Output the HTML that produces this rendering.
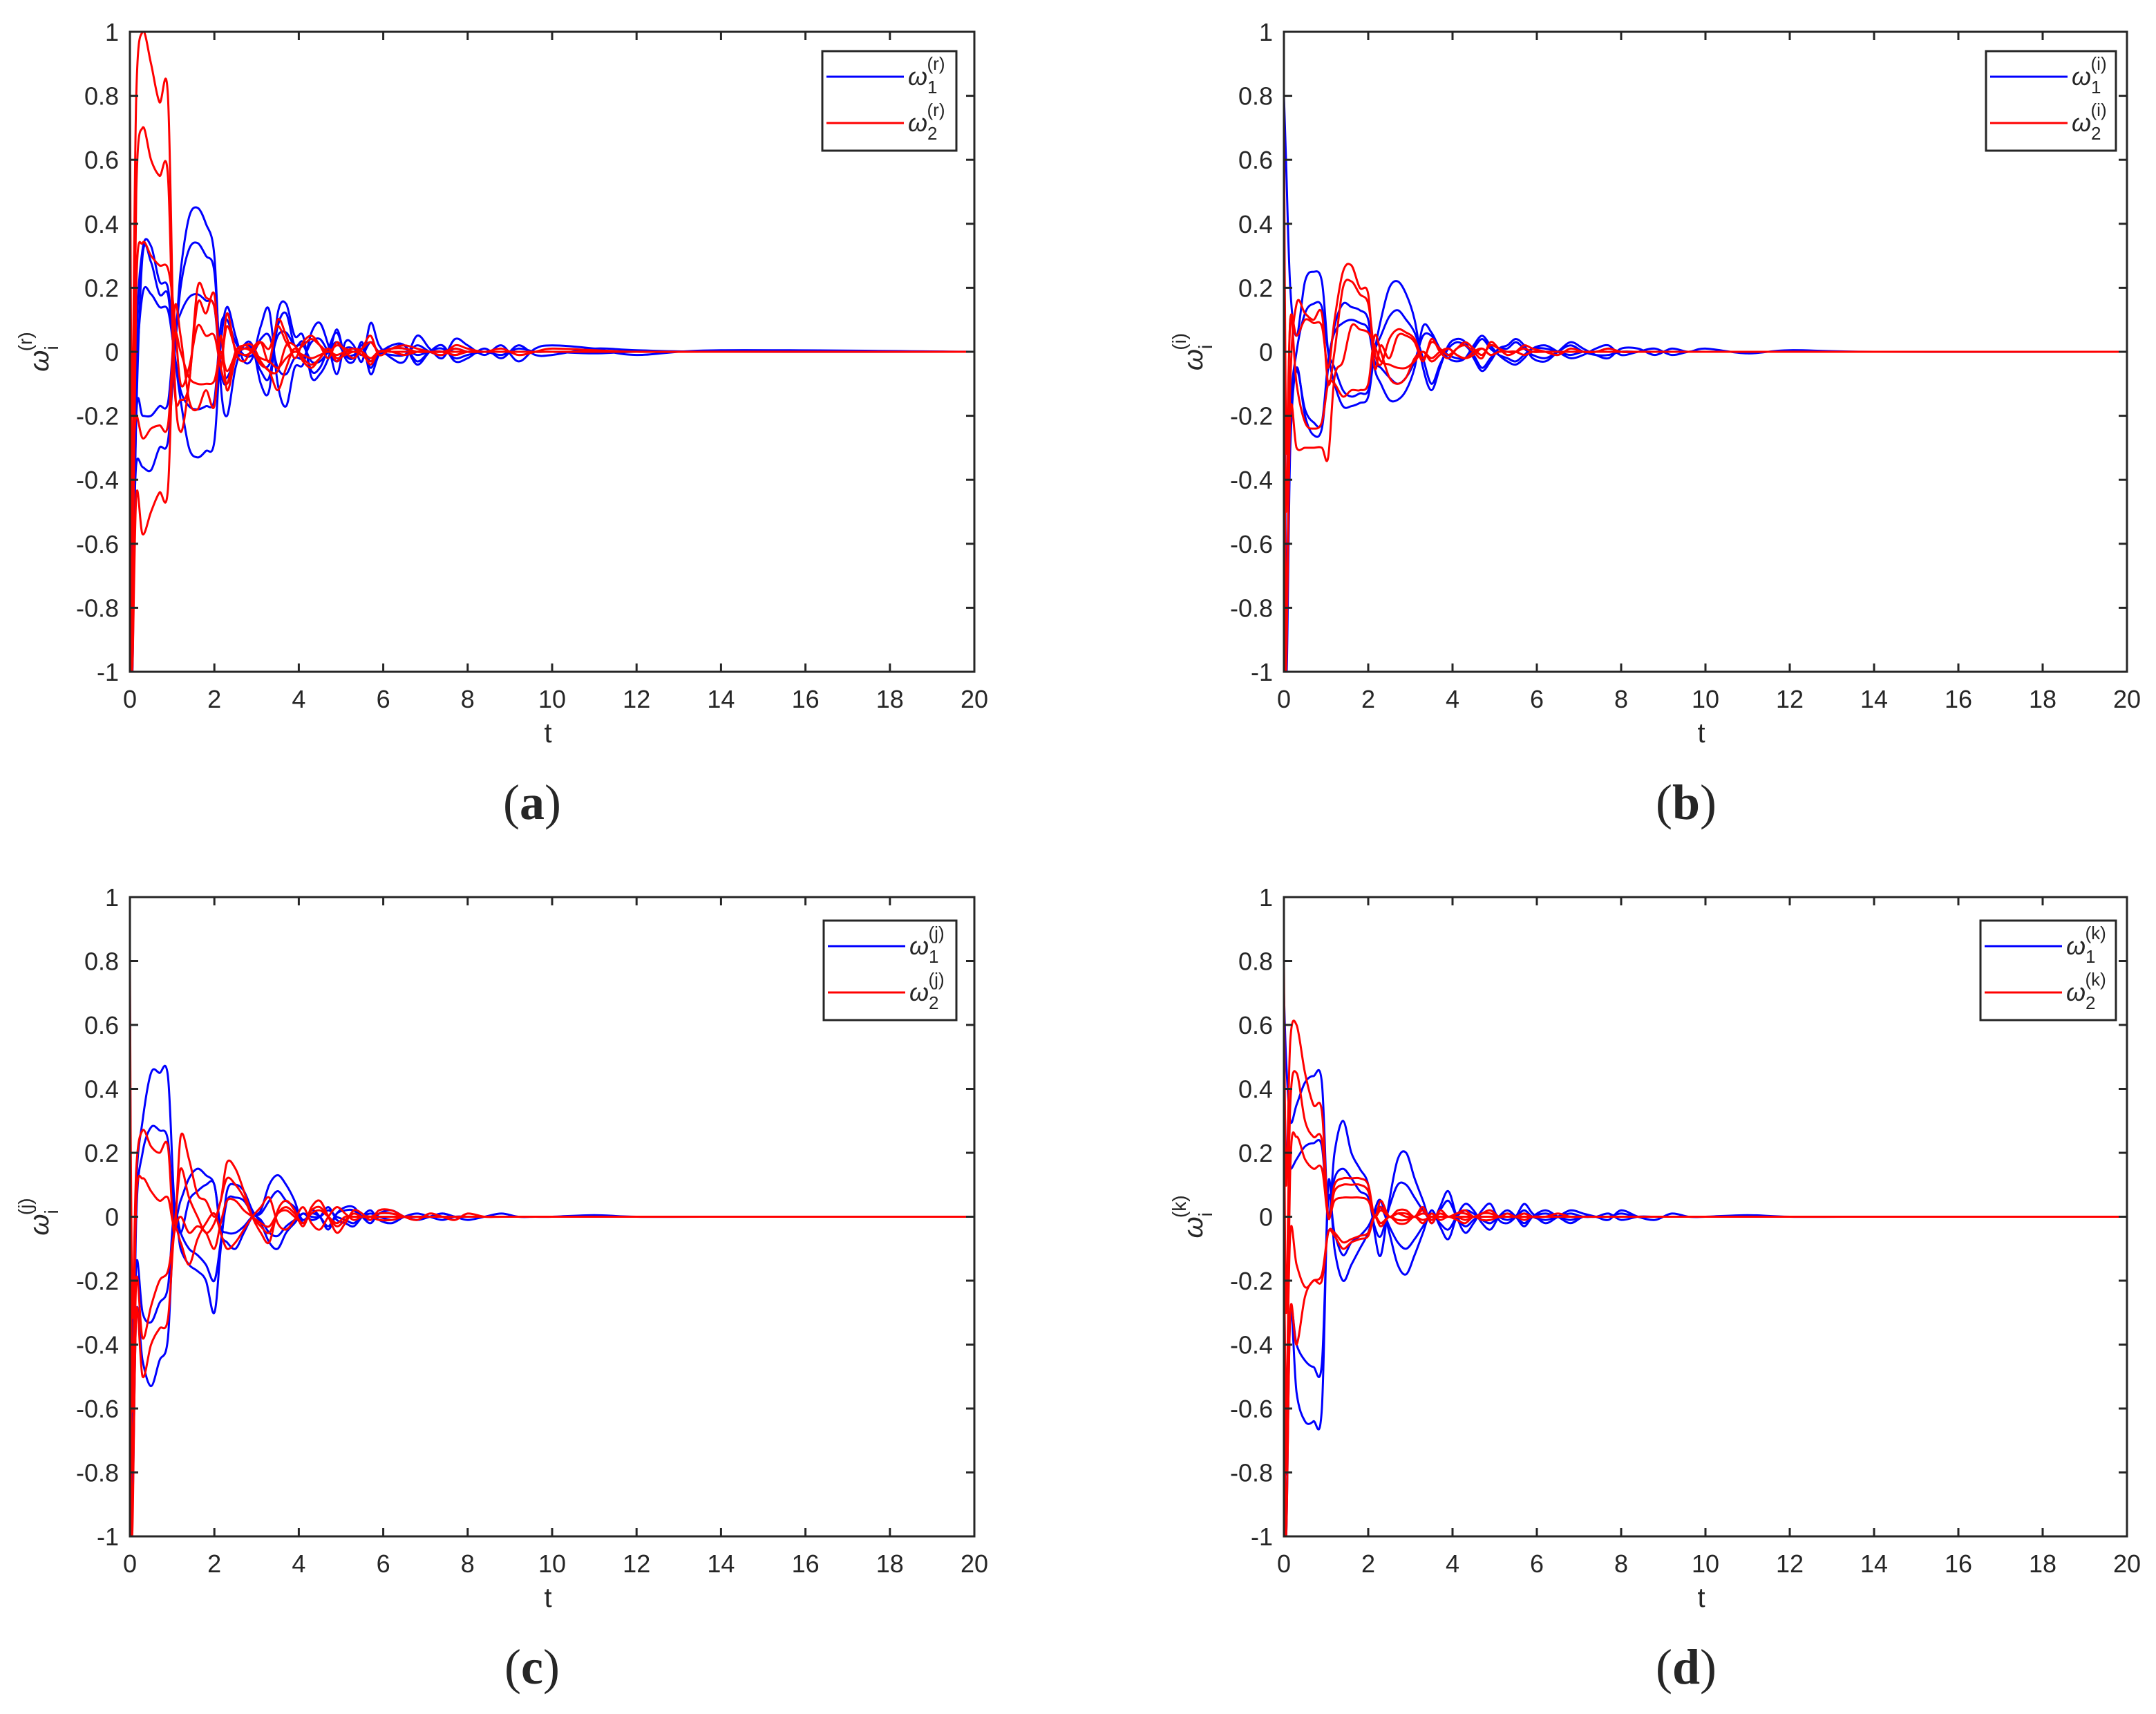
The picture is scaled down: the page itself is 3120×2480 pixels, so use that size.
<!DOCTYPE html>
<html><head><meta charset="utf-8"><style>
html,body{margin:0;padding:0;background:#fff}
svg{display:block}
text{font-family:"Liberation Sans",sans-serif;fill:#262626}
</style></head><body>
<svg id="fig" width="3120" height="2480" viewBox="0 0 3120 2480" xmlns="http://www.w3.org/2000/svg"></svg>
<script>
// shared time samples
const T = [0,0.05,0.15,0.3,0.5,0.7,0.9,1.05,1.2,1.4,1.6,1.8,2.0,2.15,2.3,2.5,2.7,2.9,3.1,3.3,3.5,3.7,3.9,4.1,4.3,4.5,4.7,4.9,5.1,5.3,5.5,5.7,5.9,6.2,6.5,6.8,7.1,7.4,7.7,8.0,8.4,8.8,9.2,9.6,10,11,12,14,20];
const xTicks = [0,2,4,6,8,10,12,14,16,18,20];
const yTicks = [-1,-0.8,-0.6,-0.4,-0.2,0,0.2,0.4,0.6,0.8,1];
const yTickLabels = ["-1","-0.8","-0.6","-0.4","-0.2","0","0.2","0.4","0.6","0.8","1"];
const panelKeys = ["a","b","c","d"];
const panelSup = ["(r)","(i)","(j)","(k)"];

// panel (a)
const aBlue1 = [0.7,-1.0,0.0,0.32,0.33,0.22,0.2,0.0,-0.15,-0.3,-0.33,-0.31,-0.28,0.02,0.14,0.05,-0.03,-0.02,0.08,0.13,-0.1,-0.17,-0.05,-0.04,0.06,0.09,0.02,-0.07,0.03,0.02,-0.03,0.09,0.02,-0.02,-0.03,0.05,0.01,-0.02,0.04,0.02,-0.01,0.02,-0.03,0.01,0.02,0.01,-0.01,0.005,0];
const aBlue2 = [0.5,-0.9,-0.2,0.3,0.28,0.18,0.18,0.02,0.25,0.42,0.45,0.4,0.3,-0.1,-0.2,-0.05,0.02,0.02,-0.1,-0.12,0.12,0.15,0.05,0.05,-0.08,-0.07,-0.02,0.07,-0.02,-0.03,0.03,-0.07,-0.01,0.02,0.02,-0.04,0.0,0.02,-0.03,-0.02,0.01,-0.02,0.02,-0.01,-0.01,0.01,0.005,0,0];
const aBlue3 = [0.4,-0.6,-0.35,-0.36,-0.37,-0.3,-0.28,-0.02,0.2,0.32,0.34,0.3,0.25,-0.05,-0.1,-0.02,0.01,0.0,-0.06,-0.08,0.08,0.12,0.02,0.03,-0.06,-0.05,0.01,0.06,-0.01,-0.02,0.02,-0.05,0.0,0.01,0.02,-0.03,0,0.01,-0.02,-0.01,0,-0.01,0.01,0,0,-0.005,0,0,0];
const aBlue4 = [0.3,-0.8,-0.1,0.18,0.18,0.14,0.13,0.0,-0.12,-0.17,-0.18,-0.17,-0.15,0.08,0.1,0.03,-0.01,-0.01,0.04,0.05,-0.05,-0.07,-0.02,-0.02,0.03,0.04,0,-0.03,0.01,0.01,-0.01,0.03,0,-0.01,-0.01,0.02,0,-0.01,0.01,0,0,0,0,0,0,0,0,0,0];
const aBlue5 = [0.2,-0.95,-0.2,-0.2,-0.2,-0.17,-0.16,0.05,0.12,0.17,0.18,0.16,0.14,-0.06,-0.08,-0.02,0.02,0.01,-0.04,-0.04,0.05,0.06,0.02,0.02,-0.03,-0.03,0,0.03,-0.01,-0.01,0.01,-0.03,0,0.01,0.01,-0.01,0,0,-0.01,0,0,0,0,0,0,0,0,0,0];
const aRed1 = [0.8,-0.2,0.8,1.0,0.9,0.78,0.8,-0.05,-0.25,-0.1,0.15,0.12,0.18,-0.05,0.12,0.0,-0.03,0.01,0.03,-0.03,0.1,0.05,-0.02,0.03,0.05,0.02,-0.02,0.03,0,-0.02,0.01,0.05,-0.01,0.01,0.02,0.01,0,-0.01,0.02,0.01,0,0.01,-0.01,0,0.01,0.005,0,0,0];
const aRed2 = [0.4,-0.6,0.5,0.7,0.6,0.55,0.55,-0.1,-0.15,-0.1,0.2,0.17,0.14,-0.02,0.08,0.01,-0.01,0,0.03,0.01,0.08,0.03,0,0.02,0.04,0.02,0,0.02,0.01,0,0.01,0.03,0,0.01,0.01,0,0,0,0.01,0,0,0,0,0,0,0,0,0,0];
const aRed3 = [0.0,-0.9,0.2,0.34,0.3,0.27,0.26,0.12,-0.1,-0.05,0.08,0.05,0.05,-0.05,-0.1,0,0.02,0.02,-0.03,-0.06,-0.06,0.02,0.02,-0.02,-0.04,-0.02,0.01,-0.02,-0.01,0,-0.01,-0.03,0,0,-0.01,0,0,0,-0.01,0,0,0,0,0,0,0,0,0,0];
const aRed4 = [-0.4,-1.0,-0.45,-0.57,-0.5,-0.44,-0.43,0.12,0.05,-0.15,-0.18,-0.12,-0.17,0.05,-0.12,-0.02,0.02,0,-0.04,-0.06,-0.12,-0.05,0.01,-0.03,-0.05,-0.02,0.01,-0.03,0,0.01,0,-0.04,0,0,-0.01,0,0,0,-0.01,0,0,0,0,0,0,0,0,0,0];
const aRed5 = [0.3,-0.3,-0.2,-0.27,-0.24,-0.23,-0.23,0.05,0.0,-0.08,-0.1,-0.1,-0.09,0.0,-0.06,-0.01,0.01,0,-0.02,-0.03,-0.05,-0.02,0,-0.01,-0.02,-0.01,0,-0.01,0,0,0,-0.02,0,0,0,0,0,0,0,0,0,0,0,0,0,0,0,0,0];

// panel (b)
const bBlue1 = [0.8,0.6,0.2,0.05,0.22,0.25,0.22,0.0,-0.1,-0.17,-0.17,-0.16,-0.14,0.0,0.1,0.2,0.22,0.18,0.1,-0.05,-0.12,-0.05,0.02,0.04,0.03,-0.02,-0.06,-0.03,0.01,0.02,0.04,0.02,-0.02,-0.03,0.0,0.03,0.01,-0.01,-0.02,0.01,0.01,-0.01,0.01,0,0.01,-0.005,0.005,0,0];
const bBlue2 = [0.6,-1.0,-0.3,-0.05,-0.2,-0.26,-0.24,-0.05,0.08,0.15,0.14,0.13,0.1,-0.05,-0.1,-0.15,-0.15,-0.12,-0.05,0.08,0.06,0.01,-0.02,-0.03,-0.02,0.02,0.05,0.02,-0.01,-0.03,-0.04,-0.02,0.01,0.02,0.0,-0.02,-0.01,0.01,0.02,-0.01,0,0.01,-0.01,0,0,0,0,0,0];
const bBlue3 = [0.5,-0.8,-0.2,0.0,0.12,0.15,0.14,0.0,-0.05,-0.12,-0.14,-0.13,-0.12,0.0,0.05,0.11,0.13,0.1,0.06,-0.02,-0.1,-0.04,0.01,0.03,0.02,-0.01,-0.05,-0.02,0.01,0.01,0.03,0.01,-0.01,-0.02,0,0.02,0,-0.01,-0.01,0,0,0,0,0,0,0,0,0,0];
const bBlue4 = [0.3,-0.9,-0.25,-0.06,-0.18,-0.22,-0.22,-0.03,0.06,0.09,0.1,0.09,0.07,-0.03,-0.05,-0.08,-0.1,-0.08,-0.03,0.05,0.05,0.01,-0.01,-0.02,-0.02,0.01,0.04,0.01,-0.01,-0.02,-0.03,-0.01,0.01,0.01,0,-0.01,0,0,0.01,0,0,0,0,0,0,0,0,0,0];
const bRed1 = [0.8,-0.3,0.1,0.05,0.1,0.09,0.08,-0.05,0.1,0.25,0.27,0.2,0.18,-0.05,0.02,-0.02,0.05,0.05,0.03,-0.03,0.04,0.0,-0.02,0.01,0.02,0.0,-0.02,0.03,0.01,-0.01,0.0,0.02,0.01,0,-0.01,0.01,0,0,0.01,0,0,0,0,0,0,0,0,0,0];
const bRed2 = [0.2,-0.9,-0.1,0.15,0.12,0.1,0.12,-0.1,0.0,0.2,0.22,0.18,0.15,0.0,-0.04,0.04,0.07,0.06,0.04,-0.02,0.03,0.01,-0.01,0.01,0.03,0.01,-0.01,0.02,0.01,0,0,0.01,0,0,0,0,0,0,0,0,0,0,0,0,0,0,0,0,0];
const bRed3 = [-0.3,-1.0,-0.2,-0.3,-0.3,-0.3,-0.3,-0.33,-0.08,-0.03,0.08,0.07,0.06,0.02,-0.03,-0.04,-0.05,-0.05,-0.03,0.0,-0.03,-0.01,0.01,-0.01,-0.02,-0.01,0.01,-0.01,0,0,0,-0.01,0,0,0,0,0,0,0,0,0,0,0,0,0,0,0,0,0];
const bRed4 = [0.0,-0.5,0.1,-0.1,-0.22,-0.24,-0.22,-0.1,-0.1,-0.14,-0.12,-0.12,-0.1,0.05,0.0,-0.08,-0.1,-0.08,-0.02,0.0,-0.02,0,0.01,-0.01,-0.02,0,0.01,-0.01,0,0,0,-0.01,0,0,0,0,0,0,0,0,0,0,0,0,0,0,0,0,0];

// panel (c)
const cBlue1 = [0.7,-0.5,0.1,0.3,0.45,0.45,0.44,0.05,-0.05,0.05,0.08,0.1,0.1,-0.05,-0.08,-0.1,-0.05,0.0,0.02,0.1,0.13,0.1,0.05,-0.02,0.02,0.0,-0.04,0.01,0.03,0.03,0.0,-0.02,0.01,0.02,0.0,-0.01,0.0,0.01,0.0,-0.01,0.0,0.01,0,0,0,0.005,0,0,0];
const cBlue2 = [0.5,-0.8,0.0,0.2,0.28,0.27,0.24,0.0,0.05,0.12,0.15,0.13,0.1,-0.03,-0.05,-0.05,-0.03,0.0,0.01,0.05,0.08,0.05,0.03,-0.01,0.01,0.0,-0.03,0.01,0.02,0.02,0,-0.01,0.01,0.01,0,-0.01,0,0.01,0,0,0,0,0,0,0,0,0,0,0];
const cBlue3 = [0.3,-0.9,-0.3,-0.45,-0.53,-0.45,-0.38,0.0,-0.1,-0.15,-0.17,-0.2,-0.3,-0.1,0.08,0.1,0.08,0.02,-0.02,-0.08,-0.1,-0.05,-0.02,0.01,-0.01,0.0,0.03,-0.01,-0.02,-0.03,0,0.02,-0.01,-0.02,0,0.01,0,-0.01,0,0,0,0,0,0,0,0,0,0,0];
const cBlue4 = [0.2,-0.7,-0.15,-0.3,-0.33,-0.27,-0.22,0.02,-0.05,-0.1,-0.12,-0.15,-0.2,-0.08,0.05,0.06,0.05,0.01,-0.01,-0.05,-0.06,-0.03,-0.01,0.01,0,0,0.02,0,-0.01,-0.02,0,0.01,0,-0.01,0,0,0,0,0,0,0,0,0,0,0,0,0,0,0];
const cRed1 = [0.8,-0.3,0.15,0.27,0.22,0.2,0.22,-0.05,0.25,0.18,0.07,0.05,0.0,0.05,0.17,0.15,0.08,0.0,-0.05,-0.08,0.02,0.05,0.02,-0.03,0.03,0.05,0.0,-0.05,-0.02,0.02,0.01,-0.01,0.02,0.02,0,-0.01,0.01,0.0,-0.01,0.01,0,0,0,0,0,0,0,0,0];
const cRed2 = [0.6,-0.6,0.05,0.12,0.08,0.05,0.06,-0.02,0.15,0.06,0.0,-0.05,-0.02,0.05,0.12,0.1,0.06,0.0,-0.03,-0.05,0.01,0.03,0.01,-0.02,0.02,0.03,0,-0.03,-0.01,0.01,0,0,0.01,0.01,0,0,0,0,0,0,0,0,0,0,0,0,0,0,0];
const cRed3 = [-0.3,-1.0,-0.3,-0.5,-0.4,-0.35,-0.32,-0.05,-0.08,-0.15,-0.07,-0.02,0.01,-0.05,-0.1,-0.08,-0.04,0.0,0.03,0.06,-0.02,-0.04,-0.01,0.03,-0.02,-0.04,0,0.03,0.01,-0.01,0,0,-0.01,-0.01,0,0,0,0,0,0,0,0,0,0,0,0,0,0,0];
const cRed4 = [-0.1,-0.8,-0.2,-0.38,-0.28,-0.2,-0.17,-0.05,0.0,-0.05,-0.03,-0.05,-0.1,-0.02,0.05,0.05,0.02,0.0,-0.02,-0.03,0.01,0.02,0,-0.02,0.01,0.02,0,-0.02,0,0,0,0,0,0,0,0,0,0,0,0,0,0,0,0,0,0,0,0,0];

// panel (d)
const dBlue1 = [0.7,0.5,0.3,0.35,0.42,0.44,0.42,0.0,0.2,0.3,0.2,0.15,0.1,-0.05,-0.12,0.05,0.18,0.2,0.12,0.05,-0.02,0.03,0.08,0.0,-0.05,-0.02,0.02,0.04,-0.01,-0.02,0.0,0.04,0.01,-0.02,0.0,0.02,0.01,0.0,-0.01,0.02,0.0,-0.01,0.01,0,0,0.005,0,0,0];
const dBlue2 = [0.5,0.2,0.15,0.18,0.22,0.23,0.22,0.0,0.12,0.15,0.12,0.08,0.06,-0.03,-0.06,0.03,0.1,0.1,0.06,0.02,-0.01,0.02,0.05,0.0,-0.03,-0.01,0.01,0.02,0,-0.01,0,0.02,0,-0.01,0,0.01,0,0,0,0.01,0,0,0,0,0,0,0,0,0];
const dBlue3 = [-0.2,-1.0,-0.3,-0.55,-0.64,-0.64,-0.6,0.1,-0.1,-0.2,-0.15,-0.1,-0.05,0.02,0.05,-0.05,-0.15,-0.18,-0.12,-0.05,0.02,-0.03,-0.07,0.0,0.04,0.02,-0.02,-0.04,0.0,0.02,0.0,-0.03,0,0.02,0,-0.02,0,0,0.01,-0.01,0,0,0,0,0,0,0,0,0];
const dBlue4 = [0.1,-0.8,-0.3,-0.4,-0.45,-0.47,-0.46,0.05,-0.05,-0.12,-0.08,-0.06,-0.03,0.01,0.03,-0.03,-0.08,-0.1,-0.07,-0.03,0.01,-0.02,-0.04,0.0,0.02,0.01,-0.01,-0.02,0,0.01,0,-0.02,0,0.01,0,-0.01,0,0,0,0,0,0,0,0,0,0,0,0,0];
const dRed1 = [0.8,0.1,0.55,0.6,0.45,0.35,0.33,0.0,0.1,0.12,0.12,0.12,0.1,0.0,0.05,0.0,0.02,0.02,0.0,0.03,-0.02,0.02,0.0,0.01,0.02,0.0,0.01,0.02,0.0,0.01,0,0.01,0,0,0.01,0,0,0,0,0,0,0,0,0,0,0,0,0,0];
const dRed2 = [0.5,-0.3,0.35,0.45,0.3,0.25,0.24,0.0,0.08,0.1,0.1,0.1,0.08,0.0,0.03,0.0,0.01,0.01,0.0,0.02,-0.01,0.01,0,0.01,0.01,0,0.01,0.01,0,0,0,0.01,0,0,0,0,0,0,0,0,0,0,0,0,0,0,0,0,0];
const dRed3 = [0.2,-0.8,0.15,0.25,0.18,0.15,0.15,0.0,0.05,0.06,0.06,0.06,0.05,0.0,0.02,0,0.01,0,0,0.01,0,0,0,0,0,0,0,0,0,0,0,0,0,0,0,0,0,0,0,0,0,0,0,0,0,0,0,0,0];
const dRed4 = [-0.3,-1.0,-0.3,-0.4,-0.25,-0.2,-0.2,-0.05,-0.05,-0.08,-0.07,-0.06,-0.05,0.0,-0.03,0.0,-0.02,-0.02,0.0,-0.02,0.01,-0.01,0,-0.01,-0.02,0,-0.01,-0.01,0,0,0,-0.01,0,0,0,0,0,0,0,0,0,0,0,0,0,0,0,0,0];
const dRed5 = [0.0,-0.6,-0.05,-0.15,-0.22,-0.2,-0.18,-0.05,-0.06,-0.1,-0.08,-0.07,-0.06,0.0,-0.02,0.0,-0.01,-0.01,0,-0.01,0,0,0,0,-0.01,0,0,0,0,0,0,0,0,0,0,0,0,0,0,0,0,0,0,0,0,0,0,0,0];

const blueSeries = {a:[aBlue1,aBlue2,aBlue3,aBlue4,aBlue5], b:[bBlue1,bBlue2,bBlue3,bBlue4], c:[cBlue1,cBlue2,cBlue3,cBlue4], d:[dBlue1,dBlue2,dBlue3,dBlue4]};
const redSeries = {a:[aRed1,aRed2,aRed3,aRed4,aRed5], b:[bRed1,bRed2,bRed3,bRed4], c:[cRed1,cRed2,cRed3,cRed4], d:[dRed1,dRed2,dRed3,dRed4,dRed5]};

const NS = "http://www.w3.org/2000/svg";
const svg = document.getElementById("fig");
function mk(tag, attrs, parent, txt){
  const e = document.createElementNS(NS, tag);
  for (const k in attrs) e.setAttribute(k, attrs[k]);
  if (txt !== undefined) e.textContent = txt;
  (parent||svg).appendChild(e);
  return e;
}
const layout = {
  a:{L:188,R:1410,T:46,B:972,lg:[1190,74,1384,218]},
  b:{L:1858,R:3078,T:46,B:972,lg:[2874,74,3062,218]},
  c:{L:188,R:1410,T:1298,B:2223,lg:[1192,1332,1384,1476]},
  d:{L:1858,R:3078,T:1298,B:2223,lg:[2866,1332,3062,1476]}
};
function smoothPath(pts){
  let d = "M"+pts[0][0].toFixed(1)+","+pts[0][1].toFixed(1);
  for (let i=0;i<pts.length-1;i++){
    const p0=pts[Math.max(0,i-1)], p1=pts[i], p2=pts[i+1], p3=pts[Math.min(pts.length-1,i+2)];
    const c1x=p1[0]+(p2[0]-p0[0])/6, c1y=p1[1]+(p2[1]-p0[1])/6;
    const c2x=p2[0]-(p3[0]-p1[0])/6, c2y=p2[1]-(p3[1]-p1[1])/6;
    d += "C"+c1x.toFixed(1)+","+c1y.toFixed(1)+" "+c2x.toFixed(1)+","+c2y.toFixed(1)+" "+p2[0].toFixed(1)+","+p2[1].toFixed(1);
  }
  return d;
}
panelKeys.forEach((k, pi) => {
  const P = layout[k];
  const g = mk("g", {});
  
  
  const xs = t => P.L + (t/20)*(P.R-P.L);
  const ys = v => P.B - ((v+1)/2)*(P.B-P.T);
  const clipId = "clip"+k;
  const cp = mk("clipPath", {id:clipId}, g);
  mk("rect", {x:P.L, y:P.T, width:P.R-P.L, height:P.B-P.T}, cp);
  const plot = mk("g", {"clip-path":"url(#"+clipId+")"}, g);
  
  
  const drawSeries = (arr, color, name) => {
    arr.forEach((vals, si) => {
      const pts = vals.map((v,i)=>[xs(T[i]), ys(v)]);
      const p = mk("path", {d:smoothPath(pts), fill:"none", stroke:color, "stroke-width":3, "stroke-linejoin":"round"}, plot);
      
      
    });
  };
  drawSeries(blueSeries[k], "#0000ff", "omega1-" + k);
  drawSeries(redSeries[k], "#ff0000", "omega2-" + k);
  const box = mk("rect", {x:P.L, y:P.T, width:P.R-P.L, height:P.B-P.T, fill:"none", stroke:"#262626", "stroke-width":3}, g);
  
  
  xTicks.forEach(t => {
    const x = xs(t);
    mk("line", {x1:x, y1:P.B, x2:x, y2:P.B-12, stroke:"#262626", "stroke-width":3}, g);
    mk("line", {x1:x, y1:P.T, x2:x, y2:P.T+12, stroke:"#262626", "stroke-width":3}, g);
    const tl = mk("text", {x:x, y:P.B+52, "font-size":36, "text-anchor":"middle"}, g, String(t));
    
    
  });
  yTicks.forEach((v, i) => {
    const y = ys(v);
    mk("line", {x1:P.L, y1:y, x2:P.L+12, y2:y, stroke:"#262626", "stroke-width":3}, g);
    mk("line", {x1:P.R, y1:y, x2:P.R-12, y2:y, stroke:"#262626", "stroke-width":3}, g);
    const tl = mk("text", {x:P.L-16, y:y+13, "font-size":36, "text-anchor":"end"}, g, yTickLabels[i]);
    
    
  });
  const xt = mk("text", {x:(P.L+P.R)/2-6, y:P.B+102, "font-size":40, "text-anchor":"middle"}, g, "t");
  
  
  const cy = (P.T+P.B)/2;
  const yt = mk("text", {transform:"translate("+(P.L-118)+","+cy+") rotate(-90)", "font-size":40, "text-anchor":"middle"}, g);
  
  
  mk("tspan", {"font-style":"italic"}, yt, "ω");
  mk("tspan", {"font-size":28, dy:14}, yt, "i");
  mk("tspan", {"font-size":28, dx:-8, dy:-38}, yt, panelSup[pi]);
  const [lx1, ly1, lx2, ly2] = P.lg;
  const lg = mk("g", {}, g);
  
  
  mk("rect", {x:lx1, y:ly1, width:lx2-lx1, height:ly2-ly1, fill:"#fff", stroke:"#262626", "stroke-width":3}, lg);
  [["#0000ff","1",37],["#ff0000","2",104]].forEach(([col, sub, dy]) => {
    const e = mk("g", {}, lg);
    
    
    mk("line", {x1:lx1+6, y1:ly1+dy, x2:lx1+118, y2:ly1+dy, stroke:col, "stroke-width":3}, e);
    const tx = mk("text", {x:lx1+124, y:ly1+dy+12, "font-size":36}, e);
    mk("tspan", {"font-style":"italic"}, tx, "ω");
    mk("tspan", {"font-size":26, dy:12}, tx, sub);
    mk("tspan", {"font-size":26, dx:-15, dy:-34}, tx, panelSup[pi]);
  });
  const plx = P.L + 582;
  const ply = P.B + 213;
  const pl = mk("text", {x:plx, y:ply, "font-size":72, "text-anchor":"middle", style:"font-family:'Liberation Serif',serif"}, g);
  
  
  mk("tspan", {}, pl, "(");
  mk("tspan", {"font-weight":"bold"}, pl, k);
  mk("tspan", {}, pl, ")");
});
</script>
</body></html>
